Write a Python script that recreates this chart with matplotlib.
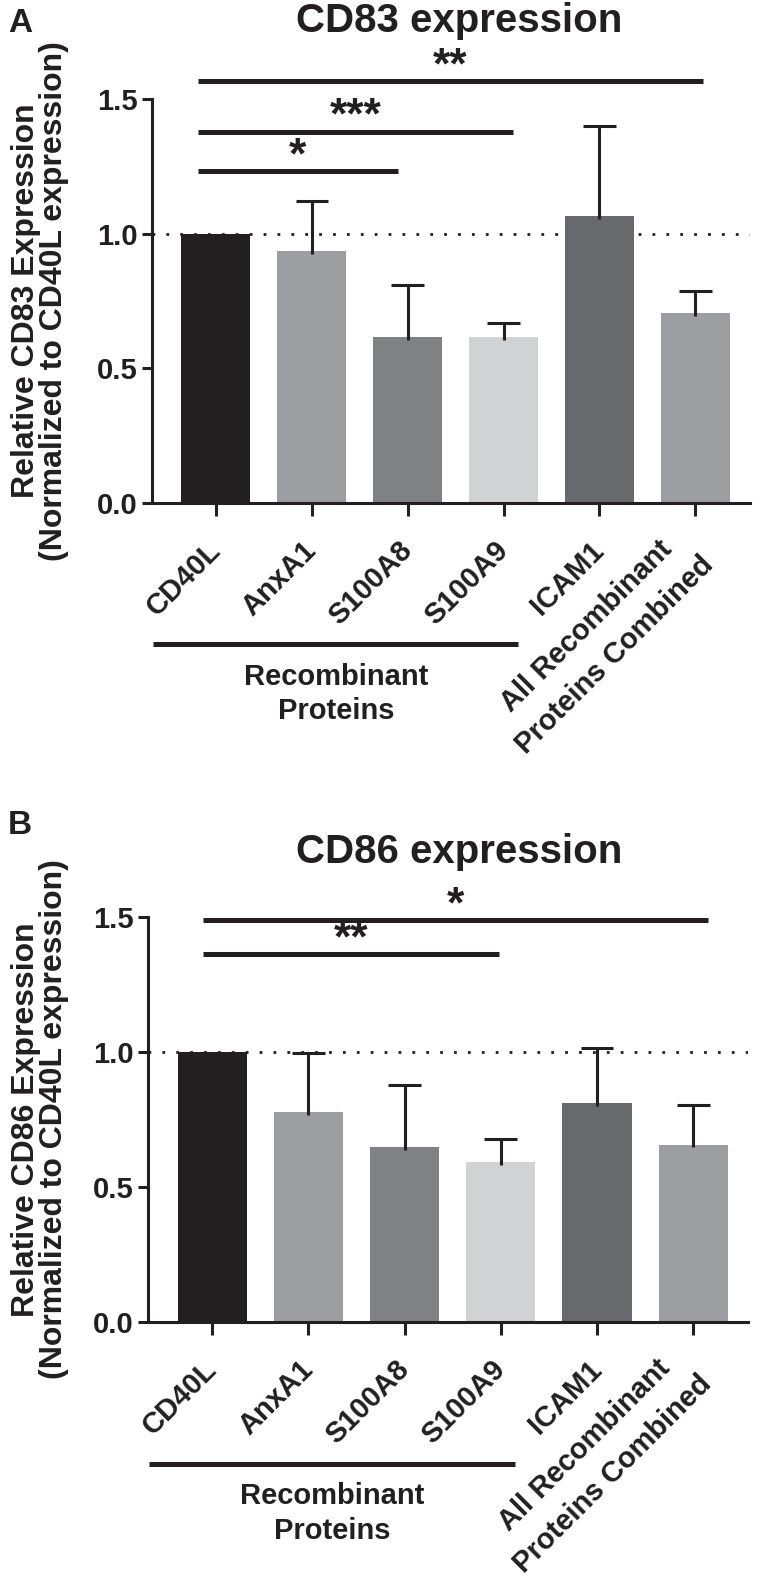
import matplotlib.pyplot as plt
import matplotlib.transforms as mtransforms
import numpy as np

# ---------------------------------------------------------------------------
# Data
# ---------------------------------------------------------------------------

categories = ["CD40L", "AnxA1", "S100A8", "S100A9", "ICAM1",
              "All Recombinant\nProteins Combined"]
bar_colors = ["#231f20", "#9d9ea2", "#808185", "#d1d2d4", "#68696c", "#9d9ea2"]

cd83_mean = [1.0, 0.935, 0.617, 0.617, 1.065, 0.705]
cd83_err = [0.0, 0.185, 0.193, 0.053, 0.335, 0.083]
cd86_mean = [1.0, 0.778, 0.647, 0.591, 0.811, 0.657]
cd86_err = [0.0, 0.218, 0.229, 0.087, 0.202, 0.148]

# significance brackets: (start, end, height, label)
cd83_sig = [(-0.19, 5.08, 1.566, "**"), (-0.19, 3.10, 1.379, "***"), (-0.19, 1.90, 1.231, "*")]
cd86_sig = [(-0.10, 5.15, 1.489, "*"), (-0.10, 2.98, 1.362, "**")]

yticks = [0.0, 0.5, 1.0, 1.5]
group_label = "Recombinant\nProteins"

INK = "#231f20"
plt.rcParams["font.family"] = ["Liberation Sans", "DejaVu Sans"]
plt.rcParams["font.weight"] = "bold"

W, H = 768, 1583


def draw_panel(ax, means, errs, sig, title, ylabel, letter, title_y, letter_y):
    x = np.arange(len(categories))
    means = np.asarray(means)
    errs = np.asarray(errs)

    ax.axhline(1.0, color=INK, lw=2.0, ls=(0, (1, 4)), zorder=1)
    ax.bar(x, means, width=0.72, color=bar_colors, zorder=2)

    # upper-only error bars with a cap
    has_err = errs > 0
    tops = means + errs
    ax.vlines(x[has_err], means[has_err] - 0.01, tops[has_err], color=INK, lw=2.2, zorder=3)
    ax.hlines(tops[has_err], x[has_err] - 0.17, x[has_err] + 0.17, color=INK, lw=2.2, zorder=3)

    for x0, x1, y, lab in sig:
        ax.plot([x0, x1], [y, y], color=INK, lw=3.6, solid_capstyle="butt", clip_on=False)
        ax.text((x0 + x1) / 2, y + 0.01, lab, ha="center", va="baseline",
                fontsize=32, color=INK, clip_on=False)

    ax.set_xlim(-0.667, 5.57)
    ax.set_ylim(0, 1.5)
    ax.set_yticks(yticks)
    ax.set_yticklabels([f"{v:.1f}" for v in yticks], fontsize=21)
    ax.set_xticks(x)
    ax.set_xticklabels(categories, rotation=45, ha="right", va="center",
                       rotation_mode="anchor", fontsize=21, multialignment="center",
                       linespacing=1.55)
    shift = mtransforms.ScaledTranslation(0.21, -0.06, fig.dpi_scale_trans)
    for lab in ax.get_xticklabels():
        lab.set_transform(lab.get_transform() + shift)
    ax.tick_params(axis="y", length=7, width=2.2, pad=3, colors=INK)
    ax.tick_params(axis="x", length=9, width=2.2, pad=22, colors=INK)
    for side in ("top", "right"):
        ax.spines[side].set_visible(False)
    for side in ("left", "bottom"):
        ax.spines[side].set_linewidth(2.2)
        ax.spines[side].set_color(INK)

    # bracket under the first four groups
    trans = mtransforms.blended_transform_factory(ax.transData, ax.transAxes)
    ax.plot([-0.655, 3.15], [-0.35, -0.35], color=INK, lw=3.6,
            solid_capstyle="butt", transform=trans, clip_on=False)
    ax.text(1.25, -0.395, group_label, transform=trans, ha="center", va="top",
            fontsize=21, linespacing=1.3, color=INK)

    bbox = ax.get_position()
    fig.text(0.598, title_y, title, ha="center", va="baseline", fontsize=29, color=INK)
    fig.text(8 / W, letter_y, letter, ha="left", va="top", fontsize=24, color=INK)
    fig.text(40 / W, (bbox.y0 + bbox.y1) / 2, ylabel, rotation=90, ha="center",
             va="center", fontsize=23, linespacing=0.92, color=INK)


fig = plt.figure(figsize=(W / 100, H / 100), dpi=100)
ax_a = fig.add_axes([152 / W, 1 - 503 / H, (750 - 152) / W, (503 - 99) / H])
ax_b = fig.add_axes([148 / W, 1 - 1322 / H, (748 - 148) / W, (1322 - 917) / H])

draw_panel(ax_a, cd83_mean, cd83_err, cd83_sig, "CD83 expression",
           "Relative CD83 Expression\n(Normalized to CD40L expression)",
           "A", 1 - 32 / H, 1 - 8 / H)
draw_panel(ax_b, cd86_mean, cd86_err, cd86_sig, "CD86 expression",
           "Relative CD86 Expression\n(Normalized to CD40L expression)",
           "B", 1 - 863 / H, 1 - 810 / H)

fig.savefig("out.png", dpi=100)
